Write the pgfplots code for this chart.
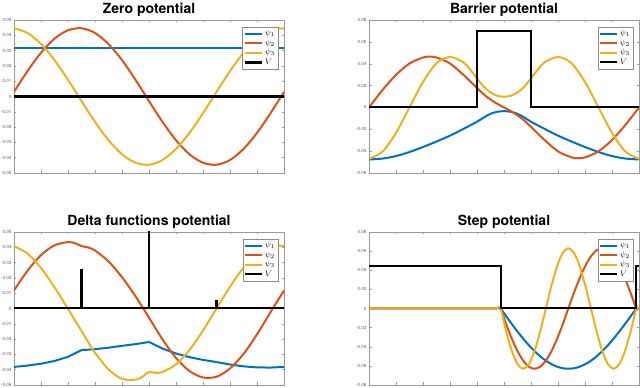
\documentclass[border=0pt]{standalone}
\usepackage{pgfplots}
\pgfplotsset{compat=1.18}
\usepackage{fontspec}
\setmainfont{TeX Gyre Heros}

\definecolor{mblue}{rgb}{0,0.447,0.741}
\definecolor{morange}{rgb}{0.85,0.325,0.098}
\definecolor{myellow}{rgb}{0.929,0.694,0.125}

\pgfplotsset{
  panel/.style={
    scale only axis, width=270pt, height=153pt,
    xmin=0, xmax=1,
    xtick={0,0.1,0.2,0.3,0.4,0.5,0.6,0.7,0.8,0.9,1}, xticklabels={},
    scaled y ticks=false,
    tick align=inside, major tick length=2.5pt,
    axis line style={black!40, line width=0.5pt},
    every tick/.style={black!40, line width=0.4pt},
    yticklabel style={font=\fontsize{4.5}{5}\selectfont, text=black!65, xshift=1pt},
    title style={at={(0.5,1)}, anchor=base, yshift=0pt, font=\bfseries\fontsize{14}{16}\selectfont},
    legend style={at={(rel axis cs:0.978,0.955)}, anchor=north east, draw=black!45,
      line width=0.4pt, fill=white, font=\fontsize{8}{9}\selectfont,
      inner sep=1pt, row sep=-1.5pt},
    legend cell align=left,
    every axis plot/.append style={line width=2pt},
  },
}

\begin{document}
\begin{tikzpicture}
\path[use as bounding box] (0,0) rectangle (640pt,388pt);

% ---------------- Zero potential
\begin{axis}[panel, at={(14pt,215pt)}, anchor=south west,
  title={Zero potential},
  ymin=-0.05, ymax=0.05,
  ytick={-0.05,-0.04,-0.03,-0.02,-0.01,0,0.01,0.02,0.03,0.04,0.05},
  yticklabels={-0.05,-0.04,-0.03,-0.02,-0.01,0,0.01,0.02,0.03,0.04,0.05}]
\addplot[mblue] coordinates {(0,0.0316) (1,0.0316)};
\addlegendentry{$\psi_1$}
\addplot[morange, smooth] coordinates {
 (0,0.0030) (0.05,0.0166) (0.1,0.0286) (0.15,0.0378) (0.2,0.0433) (0.25,0.0446)
 (0.3,0.0415) (0.35,0.0343) (0.4,0.0238) (0.45,0.0109) (0.5,-0.0030)
 (0.55,-0.0166) (0.6,-0.0286) (0.65,-0.0378) (0.7,-0.0433) (0.75,-0.0446)
 (0.8,-0.0415) (0.85,-0.0343) (0.9,-0.0238) (0.95,-0.0109) (1,0.0030)};
\addlegendentry{$\psi_2$}
\addplot[myellow, smooth] coordinates {
 (0,0.0446) (0.05,0.0415) (0.1,0.0343) (0.15,0.0238) (0.2,0.0109) (0.25,-0.0030)
 (0.3,-0.0166) (0.35,-0.0286) (0.4,-0.0378) (0.45,-0.0433) (0.5,-0.0446)
 (0.55,-0.0415) (0.6,-0.0343) (0.65,-0.0238) (0.7,-0.0109) (0.75,0.0030)
 (0.8,0.0166) (0.85,0.0286) (0.9,0.0378) (0.95,0.0433) (1,0.0446)};
\addlegendentry{$\psi_3$}
\addplot[black, line width=3pt] coordinates {(0,0) (1,0)};
\addlegendentry{$V$}
\end{axis}

% ---------------- Barrier potential
\begin{axis}[panel, at={(369pt,215pt)}, anchor=south west,
  title={Barrier potential},
  ymin=-0.06, ymax=0.08,
  ytick={-0.06,-0.04,-0.02,0,0.02,0.04,0.06,0.08},
  yticklabels={-0.06,-0.04,-0.02,0,0.02,0.04,0.06,0.08}]
\addplot[mblue, smooth] coordinates {
 (0,-0.0476) (0.05,-0.0468) (0.1,-0.0445) (0.15,-0.0408) (0.2,-0.0362) (0.25,-0.0312)
 (0.3,-0.0258) (0.35,-0.0196) (0.4,-0.0131) (0.425,-0.0092) (0.45,-0.0058) (0.475,-0.0040)
 (0.5,-0.0034)
 (0.525,-0.0040) (0.55,-0.0058) (0.575,-0.0092) (0.6,-0.0131) (0.65,-0.0196) (0.7,-0.0258)
 (0.75,-0.0312) (0.8,-0.0362) (0.85,-0.0408) (0.9,-0.0445) (0.95,-0.0468) (1,-0.0476)};
\addlegendentry{$\psi_1$}
\addplot[morange, smooth] coordinates {
 (0,0) (0.05,0.0159) (0.1,0.0298) (0.15,0.0402) (0.2,0.0457) (0.225,0.0464) (0.25,0.0457)
 (0.3,0.0402) (0.35,0.0298) (0.375,0.0238) (0.4,0.0178) (0.425,0.0120) (0.45,0.0072)
 (0.475,0.0033) (0.5,0)
 (0.525,-0.0033) (0.55,-0.0072) (0.575,-0.0120) (0.6,-0.0178) (0.625,-0.0238) (0.65,-0.0298)
 (0.7,-0.0402) (0.75,-0.0457) (0.775,-0.0464) (0.8,-0.0457) (0.85,-0.0402) (0.9,-0.0298)
 (0.95,-0.0159) (1,0)};
\addlegendentry{$\psi_2$}
\addplot[myellow, smooth] coordinates {
 (0,-0.0470) (0.05,-0.0405) (0.1,-0.0233) (0.15,0) (0.2,0.0233) (0.25,0.0405) (0.3,0.0462)
 (0.35,0.0412) (0.375,0.0345) (0.4,0.0266) (0.425,0.0190) (0.45,0.0137) (0.475,0.0107)
 (0.5,0.0098)
 (0.525,0.0107) (0.55,0.0137) (0.575,0.0190) (0.6,0.0266) (0.625,0.0345) (0.65,0.0412)
 (0.7,0.0462) (0.75,0.0405) (0.8,0.0233) (0.85,0) (0.9,-0.0233) (0.95,-0.0405) (1,-0.0470)};
\addlegendentry{$\psi_3$}
\addplot[black] coordinates {(0,0) (0.4,0) (0.4,0.07) (0.6,0.07) (0.6,0) (1,0)};
\addlegendentry{$V$}
\end{axis}

% ---------------- Delta functions potential
\begin{axis}[panel, at={(14pt,3pt)}, anchor=south west,
  title={Delta functions potential},
  ymin=-0.05, ymax=0.05,
  ytick={-0.05,-0.04,-0.03,-0.02,-0.01,0,0.01,0.02,0.03,0.04,0.05},
  yticklabels={-0.05,-0.04,-0.03,-0.02,-0.01,0,0.01,0.02,0.03,0.04,0.05}]
\addplot[mblue] coordinates {
 (0,-0.0382) (0.05,-0.0373) (0.1,-0.0361) (0.15,-0.0343) (0.2,-0.0316) (0.25,-0.0272)
 (0.3,-0.0266) (0.35,-0.0256) (0.4,-0.0244) (0.45,-0.0233) (0.5,-0.0219)
 (0.55,-0.0262) (0.6,-0.0294) (0.65,-0.0318) (0.7,-0.0336) (0.75,-0.0350)
 (0.8,-0.0366) (0.85,-0.0378) (0.9,-0.0385) (0.95,-0.0386) (1,-0.0382)};
\addlegendentry{$\psi_1$}
\addplot[morange, smooth] coordinates {
 (0,0.0118) (0.05,0.0247) (0.1,0.0349) (0.15,0.0413) (0.2,0.0434) (0.225,0.0427) (0.25,0.0408)
 (0.275,0.0399) (0.3,0.0379) (0.35,0.0308) (0.4,0.0205) (0.45,0.0080) (0.5,-0.0060)
 (0.55,-0.0202) (0.6,-0.0323) (0.65,-0.0409) (0.7,-0.0451) (0.75,-0.0446)
 (0.8,-0.0392) (0.85,-0.0297) (0.9,-0.0169) (0.95,-0.0024) (1,0.0118)};
\addlegendentry{$\psi_2$}
\addplot[myellow, smooth] coordinates {
 (0,0.0408) (0.05,0.0359) (0.1,0.0265) (0.15,0.0139) (0.2,-0.0003) (0.225,-0.0075) (0.25,-0.0146)
 (0.275,-0.0220) (0.3,-0.0289) (0.35,-0.0398) (0.4,-0.0460) (0.45,-0.0465) (0.475,-0.0447)
 (0.5,-0.0415) (0.525,-0.0421) (0.55,-0.0415) (0.6,-0.0365) (0.65,-0.0271) (0.7,-0.0144)
 (0.75,0) (0.8,0.0142) (0.85,0.0267) (0.9,0.0360) (0.95,0.0409) (1,0.0408)};
\addlegendentry{$\psi_3$}
\addplot[black] coordinates {
 (0,0) (0.249,0) (0.249,0.025) (0.251,0.025) (0.251,0)
 (0.499,0) (0.499,0.07) (0.501,0.07) (0.501,0)
 (0.749,0) (0.749,0.005) (0.751,0.005) (0.751,0) (1,0)};
\addlegendentry{$V$}
\end{axis}

% ---------------- Step potential
\begin{axis}[panel, at={(369pt,3pt)}, anchor=south west,
  title={Step potential},
  ymin=-0.08, ymax=0.08,
  ytick={-0.08,-0.06,-0.04,-0.02,0,0.02,0.04,0.06,0.08},
  yticklabels={-0.08,-0.06,-0.04,-0.02,0,0.02,0.04,0.06,0.08}]
\addplot[mblue, smooth] coordinates {
 (0,0) (0.2,0) (0.4,0) (0.45,0) (0.47,0) (0.487,0) (0.508,-0.0082) (0.529,-0.0163) (0.550,-0.0241) (0.571,-0.0315)
 (0.592,-0.0384) (0.613,-0.0445) (0.634,-0.0500) (0.655,-0.0546) (0.676,-0.0582)
 (0.697,-0.0609) (0.718,-0.0625) (0.738,-0.0630) (0.759,-0.0625) (0.780,-0.0609)
 (0.801,-0.0582) (0.822,-0.0546) (0.843,-0.0500) (0.864,-0.0445) (0.885,-0.0384)
 (0.906,-0.0315) (0.927,-0.0241) (0.948,-0.0163) (0.969,-0.0082) (0.990,0) (0.995,0) (1,0)};
\addlegendentry{$\psi_1$}
\addplot[morange, smooth] coordinates {
 (0,0) (0.2,0) (0.4,0) (0.45,0) (0.47,0) (0.487,0) (0.508,-0.0163) (0.529,-0.0315) (0.550,-0.0445) (0.571,-0.0546)
 (0.592,-0.0609) (0.613,-0.0630) (0.634,-0.0609) (0.655,-0.0546) (0.676,-0.0445)
 (0.697,-0.0315) (0.718,-0.0163) (0.738,0) (0.759,0.0163) (0.780,0.0315)
 (0.801,0.0445) (0.822,0.0546) (0.843,0.0609) (0.864,0.0630) (0.885,0.0609)
 (0.906,0.0546) (0.927,0.0445) (0.948,0.0315) (0.969,0.0163) (0.990,0) (0.995,0) (1,0)};
\addlegendentry{$\psi_2$}
\addplot[myellow, smooth] coordinates {
 (0,0) (0.2,0) (0.4,0) (0.45,0) (0.47,0) (0.487,0) (0.508,-0.0241) (0.529,-0.0445) (0.550,-0.0582) (0.571,-0.0630)
 (0.592,-0.0582) (0.613,-0.0445) (0.634,-0.0241) (0.655,0) (0.676,0.0241)
 (0.697,0.0445) (0.718,0.0582) (0.738,0.0630) (0.759,0.0582) (0.780,0.0445)
 (0.801,0.0241) (0.822,0) (0.843,-0.0241) (0.864,-0.0445) (0.885,-0.0582)
 (0.906,-0.0630) (0.927,-0.0582) (0.948,-0.0445) (0.969,-0.0241) (0.990,0) (0.995,0) (1,0)};
\addlegendentry{$\psi_3$}
\addplot[black] coordinates {(0,0.044) (0.489,0.044) (0.489,0) (0.990,0) (0.990,0.044) (1,0.044)};
\addlegendentry{$V$}
\end{axis}
\end{tikzpicture}
\end{document}
